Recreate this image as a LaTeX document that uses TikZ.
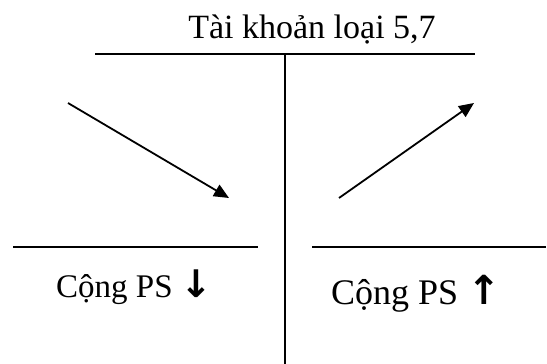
\documentclass[tikz,border=0pt]{standalone}
\usepackage{fontspec}
\setmainfont{Liberation Serif}
\newfontfamily\arrowfont{DejaVu Sans}
\usetikzlibrary{arrows.meta}
\begin{document}
\begin{tikzpicture}[x=1pt,y=-1pt,
  rule/.style={line width=1.9pt},
  flow/.style={line width=1.8pt,-{Triangle[length=15pt,width=13pt]}},
  lbl/.style={inner sep=0pt,anchor=base west}]
\useasboundingbox (0,0) rectangle (547,364);
\node[inner sep=0pt,anchor=base] (title) at (312,38) {\fontsize{34}{40}\selectfont Tài khoản loại 5,7};
\coordinate (tl) at (95,54);
\coordinate (tr) at (475,54);
\coordinate (vt) at (285,54);
\coordinate (vb) at (285,364);
\coordinate (a1s) at (68,103);
\coordinate (a1e) at (229,198);
\coordinate (a2s) at (339,198);
\coordinate (a2e) at (474,103);
\coordinate (l1) at (13,247);
\coordinate (l2) at (258,247);
\coordinate (r1) at (312,247);
\coordinate (r2) at (546,247);
\draw[rule] (tl) -- (tr);
\draw[rule] (vt) -- (vb);
\draw[rule] (l1) -- (l2);
\draw[rule] (r1) -- (r2);
\draw[flow] (a1s) -- (a1e);
\draw[flow] (a2s) -- (a2e);
\node[lbl] (debit) at (56,297) {\fontsize{33}{40}\selectfont Cộng PS {\arrowfont\bfseries\fontsize{38}{44}\selectfont ↓}};
\node[lbl] (credit) at (331,304) {\fontsize{36}{42}\selectfont Cộng PS {\arrowfont\bfseries\fontsize{40}{46}\selectfont ↑}};
\end{tikzpicture}
\end{document}
